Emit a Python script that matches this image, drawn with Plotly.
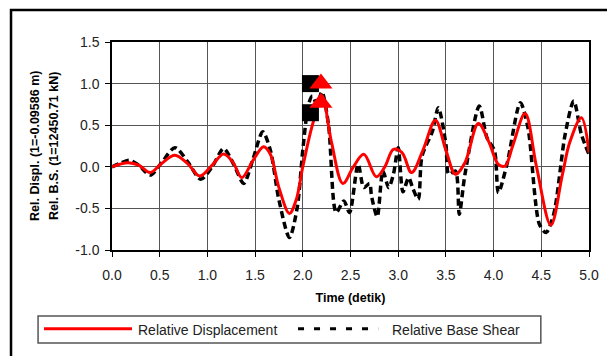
import plotly.graph_objects as go

# Relative Displacement (red)
disp_t = [0.0, 0.08, 0.17, 0.28, 0.40, 0.52, 0.66, 0.80, 0.92, 1.05, 1.17, 1.27, 1.36, 1.48, 1.59,
          1.66, 1.75, 1.86, 1.93, 2.00, 2.10, 2.20, 2.30, 2.42, 2.53, 2.64, 2.77, 2.86, 2.95, 3.04,
          3.14, 3.26, 3.39, 3.50, 3.60, 3.70, 3.84, 3.95, 4.05, 4.12, 4.20, 4.33, 4.45, 4.60, 4.72,
          4.80, 4.92, 5.00]
disp_v = [0.0, 0.03, 0.05, 0.02, -0.07, 0.04, 0.14, 0.03, -0.11, 0.02, 0.155, 0.05, -0.13, 0.08, 0.24,
          0.15, -0.25, -0.56, -0.40, 0.0, 0.50, 0.85, 0.30, -0.20, 0.0, 0.15, -0.12, 0.0, 0.21, 0.17,
          -0.07, 0.20, 0.56, 0.20, -0.09, 0.05, 0.52, 0.30, 0.03, 0.01, 0.25, 0.64, 0.0, -0.70, -0.10,
          0.30, 0.59, 0.17]

# Relative Base Shear (black dashed)
shear_t = [0.0, 0.08, 0.18, 0.28, 0.40, 0.52, 0.66, 0.80, 0.93, 1.05, 1.17, 1.28, 1.38, 1.48, 1.58,
           1.66, 1.75, 1.86, 1.94, 2.00, 2.06, 2.10, 2.15, 2.20, 2.27, 2.35, 2.43, 2.49, 2.58, 2.64,
           2.70, 2.72, 2.78, 2.84, 2.90, 2.95, 3.00, 3.05, 3.11, 3.15, 3.21, 3.25, 3.36, 3.42, 3.50,
           3.53, 3.60, 3.64, 3.70, 3.85, 3.93, 4.01, 4.05, 4.14, 4.28, 4.36, 4.48, 4.55, 4.63, 4.75,
           4.84, 4.92, 5.00]
shear_v = [0.0, 0.04, 0.08, 0.02, -0.10, 0.05, 0.23, 0.05, -0.15, 0.0, 0.22, 0.02, -0.20, 0.10, 0.42,
           0.20, -0.40, -0.85, -0.50, 0.20, 0.75, 0.85, 0.75, 0.90, 0.50, -0.55, -0.41, -0.55, 0.03, -0.25,
           -0.20, -0.35, -0.60, -0.05, -0.25, -0.09, 0.23, -0.30, -0.13, -0.25, -0.39, 0.13, 0.43, 0.71, 0.27,
           -0.09, -0.05, -0.57, -0.09, 0.73, 0.35, 0.19, -0.31, 0.03, 0.77, 0.47, -0.69, -0.79, -0.57, 0.39,
           0.79, 0.39, 0.15]

# Peak markers
sq_t = [2.08, 2.08]
sq_v = [1.0, 0.65]
tri_t = [2.19, 2.19]
tri_v = [1.0, 0.77]

x_ticks = [0.0, 0.5, 1.0, 1.5, 2.0, 2.5, 3.0, 3.5, 4.0, 4.5, 5.0]
y_ticks = [-1.0, -0.5, 0.0, 0.5, 1.0, 1.5]

FONT = "Liberation Sans, Arial, sans-serif"

fig = go.Figure()
fig.add_trace(go.Scatter(x=shear_t, y=shear_v, mode="lines", name="Relative Base Shear",
                         line=dict(color="black", width=3.5, dash="7px,4px", shape="spline", smoothing=0.8)))
fig.add_trace(go.Scatter(x=disp_t, y=disp_v, mode="lines", name="Relative Displacement",
                         line=dict(color="#ff0000", width=3, shape="spline", smoothing=1.0)))
fig.add_trace(go.Scatter(x=sq_t, y=sq_v, mode="markers",
                         marker=dict(symbol="square", size=17, color="black")))
fig.add_trace(go.Scatter(x=tri_t, y=tri_v, mode="markers",
                         marker=dict(symbol="triangle-up", size=20, color="#ff0000")))

axis_common = dict(showline=True, mirror=True, linecolor="black", linewidth=1.5,
                   showgrid=True, gridcolor="#555555", gridwidth=1, zeroline=False,
                   ticks="outside", ticklen=5, tickcolor="black",
                   tickfont=dict(family=FONT, size=14, color="#222222"))

fig.update_xaxes(range=[0, 5], tickvals=x_ticks, ticktext=[f"{v:.1f}" for v in x_ticks],
                 ticklabelstandoff=6,
                 title=dict(text="<b>Time (detik)</b>", font=dict(family=FONT, size=12.5, color="black"),
                            standoff=12),
                 **axis_common)
fig.update_yaxes(range=[-1.0, 1.5], tickvals=y_ticks, ticktext=[f"{v:.1f}" for v in y_ticks],
                 ticklabelstandoff=3,
                 **axis_common)

# plot area (in page pixels): x 112..589, y 42..250
shapes = [
    dict(type="rect", xref="paper", yref="paper", x0=-0.2117, x1=1.0482, y0=-0.60, y1=1.1538,
         line=dict(color="black", width=2.5), fillcolor="rgba(0,0,0,0)", layer="below"),
    dict(type="rect", xref="paper", yref="paper", x0=-0.155, x1=0.899, y0=-0.447, y1=-0.317,
         line=dict(color="#555555", width=1.5)),
    dict(type="line", xref="paper", yref="paper", x0=-0.1426, x1=0.0419, y0=-0.379, y1=-0.379,
         line=dict(color="#ff0000", width=3)),
    dict(type="line", xref="paper", yref="paper", x0=0.390, x1=0.558, y0=-0.379, y1=-0.379,
         line=dict(color="black", width=3, dash="6px,10px")),
]
annotations = [
    dict(text="Relative Displacement", xref="paper", yref="paper", x=0.0503, y=-0.385,
         xanchor="left", yanchor="middle", showarrow=False,
         font=dict(family=FONT, size=14, color="#222222")),
    dict(text="Relative Base Shear", xref="paper", yref="paper", x=0.582, y=-0.385,
         xanchor="left", yanchor="middle", showarrow=False,
         font=dict(family=FONT, size=14, color="#222222")),
    dict(text="<b>Rel. Displ. (1=-0.09586 m)</b>", xref="paper", yref="paper", x=-0.1614, y=0.5,
         xanchor="center", yanchor="middle", textangle=-90, showarrow=False,
         font=dict(family=FONT, size=12.5, color="black")),
    dict(text="<b>Rel. B.S. (1=12450.71 kN)</b>", xref="paper", yref="paper", x=-0.1216, y=0.5,
         xanchor="center", yanchor="middle", textangle=-90, showarrow=False,
         font=dict(family=FONT, size=12.5, color="black")),
]

# page body adds an 8px offset, so margins are reduced accordingly
fig.update_layout(width=615, height=356, margin=dict(l=104, r=34, t=34, b=114),
                  paper_bgcolor="white", plot_bgcolor="white", showlegend=False,
                  shapes=shapes, annotations=annotations,
                  font=dict(family=FONT, color="black"))

fig.write_html("out.html")
